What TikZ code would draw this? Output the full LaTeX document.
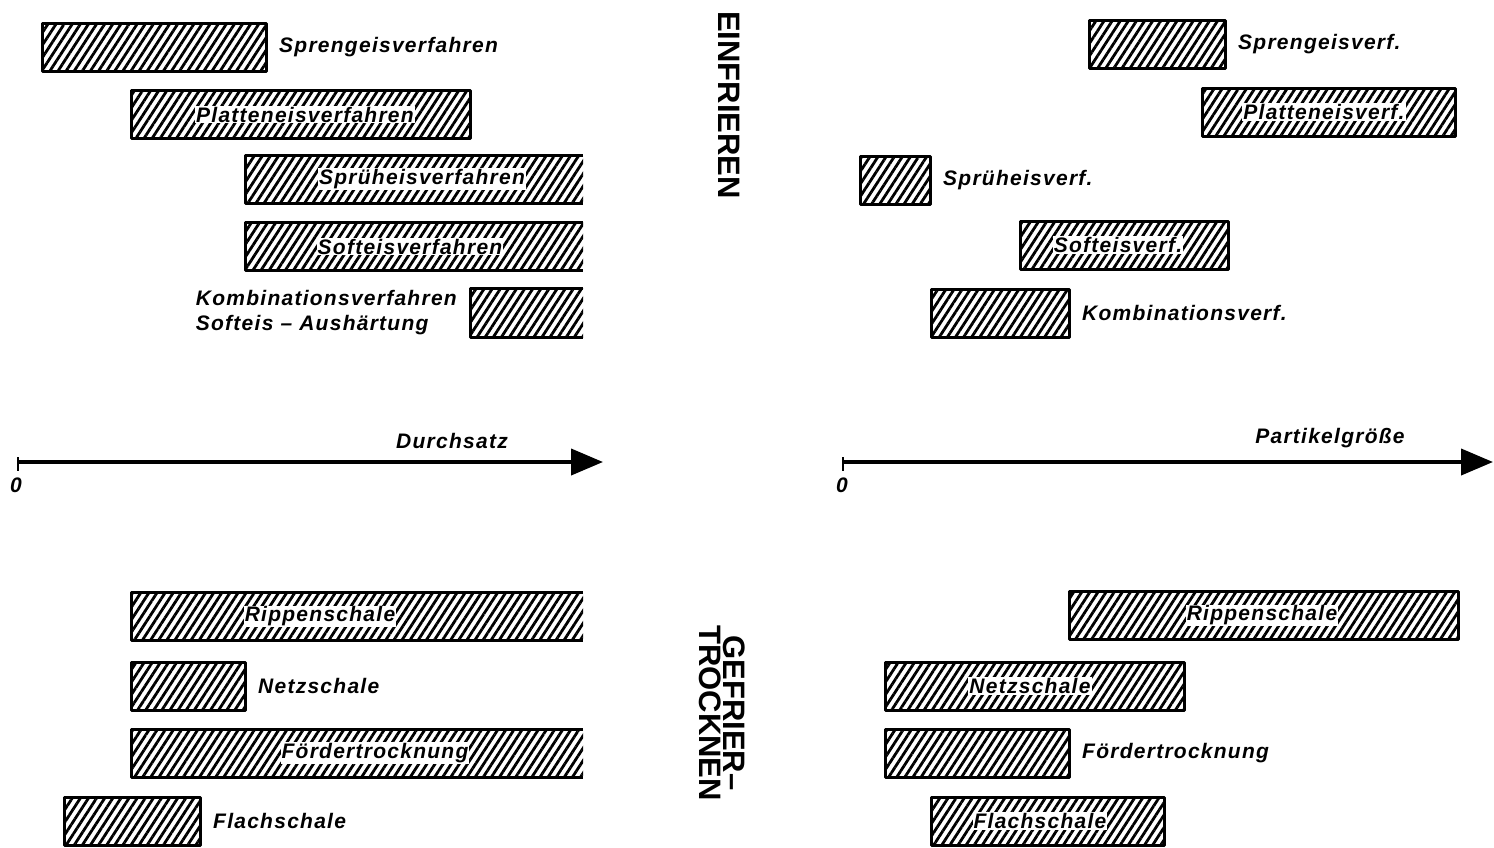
\documentclass[tikz,border=0pt]{standalone}
\usepackage{fontspec}
\setmainfont{Liberation Sans}
\newfontfamily\spaced[LetterSpace=6]{Liberation Sans}
\usetikzlibrary{positioning,arrows.meta,patterns.meta}

\tikzset{
  hatch/.style={pattern={Lines[angle=57,distance=6.8pt,line width=2.8pt]}},
  barline/.style={line width=3pt,line join=round},
  lbl/.style={font=\fontsize{21}{25}\selectfont\spaced\bfseries\itshape,inner sep=1pt},
  inlbl/.style={lbl,fill=white},
  axis/.style={line width=4pt,-{Triangle[length=32pt,width=26pt]}},
  side/.style={font=\fontsize{31}{24}\selectfont\bfseries,rotate=-90,align=center},
}

\begin{document}
\begin{tikzpicture}[x=1pt,y=-1pt]
\useasboundingbox (0,0) rectangle (1494,847);
% bars with the label inside
\foreach \a/\b/\y/\lx/\nm/\txt in {131/470/114.5/305/plv/Platteneisverfahren,
  1202/1455/112/1324/plr/Platteneisverf., 1020/1228/245/1118/sor/Softeisverf.,
  1069/1458/615.5/1262/rir/Rippenschale, 885/1184/686/1030/ner/Netzschale,
  931/1164/821/1040/flr/Flachschale}{
  \draw[barline,hatch] (\a,\y-24) rectangle (\b,\y+24);
  \node[inlbl] (\nm) at (\lx,\y) {\txt};
}
% bars with the label beside
\foreach \a/\b/\y/\nm/\txt in {42/266/47/spv/Sprengeisverfahren,
  131/245/686/nev/Netzschale, 64/200/821/flv/Flachschale,
  1089/1225/44.5/spr/Sprengeisverf., 860/930/180/sur/Sprüheisverf.,
  931/1069/313/kor/Kombinationsverf., 885/1069/753/fdr/Fördertrocknung}{
  \draw[barline,hatch] (\a,\y-24) rectangle (\b,\y+24);
  \node[lbl,anchor=west] (\nm) at (\b+12,\y) {\txt};
}
% open bars, cut at the right
\foreach \a/\y/\lx/\nm/\txt in {245/179/422/suv/Sprüheisverfahren,
  245/246.5/410/sov/Softeisverfahren, 131/616.5/320/riv/Rippenschale,
  131/753/375/fdv/Fördertrocknung}{
  \fill[hatch] (\a,\y-24) rectangle (583,\y+24);
  \draw[barline] (583,\y-24) -| (\a,\y+24) -- (583,\y+24);
  \node[inlbl] (\nm) at (\lx,\y) {\txt};
}
\fill[hatch] (470,288.5) rectangle (583,337.5);
\draw[barline] (583,288.5) -| (470,337.5) -- (583,337.5);
\node[lbl,align=left,anchor=east] (kov) at (458,313)
  {Kombinationsverfahren\\Softeis – Aushärtung};

% axes
\coordinate (o1) at (18,462);
\coordinate (e1) at (603,462);
\coordinate (o2) at (843,462);
\coordinate (e2) at (1493,462);
\draw[axis] (o1) -- (e1);
\draw[axis] (o2) -- (e2);
\draw[line width=2.5pt] (18,457) -- (18,471);
\draw[line width=2.5pt] (843,457) -- (843,471);
\node[lbl] (z1) at (16,485) {0};
\node[lbl] (z2) at (842,485) {0};
\node[lbl] (dsatz) at (452,441) {Durchsatz};
\node[lbl] (pgr) at (1330,438) {Partikelgröße};

% group titles
\node[side] (einf) at (729,105) {EINFRIEREN};
\node[side] (gefr) at (722,713) {GEFRIER–\\TROCKNEN};
\end{tikzpicture}
\end{document}
